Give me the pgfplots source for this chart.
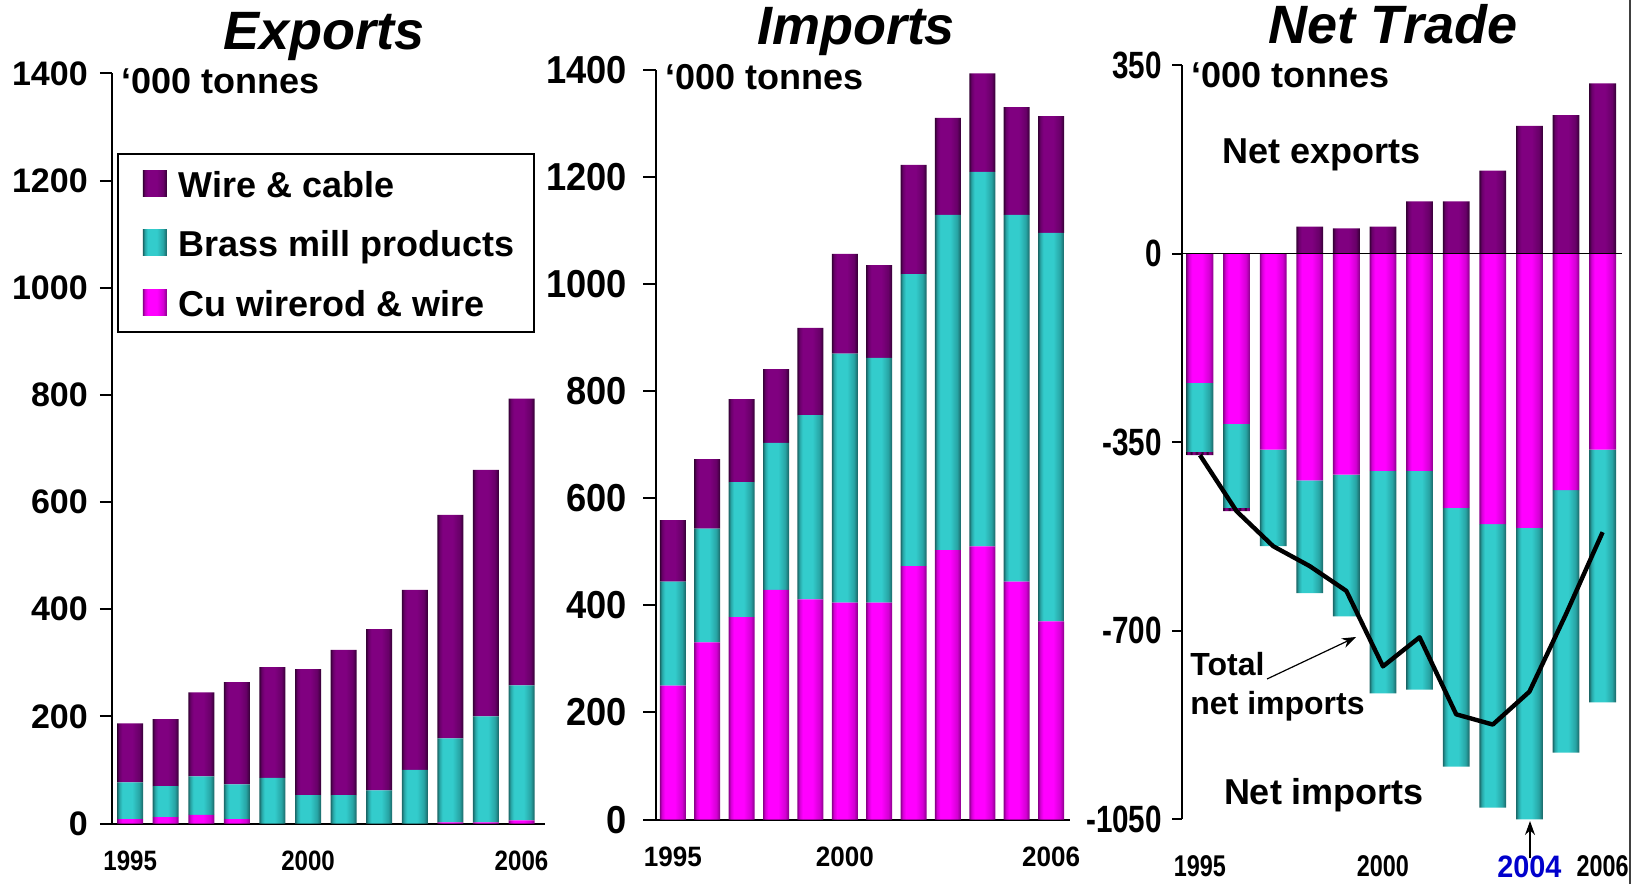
\documentclass[border=0pt]{standalone}
\usepackage{pgfplots}
\pgfplotsset{compat=1.18}
\usepackage{pgfplotstable}
\usepackage{fontspec}
\setmainfont{Liberation Sans}
\newfontfamily\narrowsans[FakeStretch=0.78]{Liberation Sans}
\newfontfamily\semisans[FakeStretch=0.86]{Liberation Sans}
\newfontfamily\slightsans[FakeStretch=0.93]{Liberation Sans}
\usetikzlibrary{arrows.meta}

\newcommand\fs[1]{\fontsize{#1}{#1}\selectfont}

% bar colours: dark edge, mid tone, bright centre
\definecolor{wdk}{HTML}{330033}
\definecolor{wmd}{HTML}{680068}
\definecolor{wlt}{HTML}{800080}
\definecolor{bdk}{HTML}{1A6464}
\definecolor{bmd}{HTML}{27A4A4}
\definecolor{blt}{HTML}{33CCCC}
\definecolor{cdk}{HTML}{880088}
\definecolor{cmd}{HTML}{D400D4}
\definecolor{clt}{HTML}{FF00FF}
\definecolor{yrblue}{HTML}{0000CC}

% A series of bars is filled as one path, so its shading repeats once per
% bar: #1 name, #2 bar spacing (pt), #3 bar width (pt), #4-#6 dark/mid/light.
\newcommand\declarebarshading[6]{%
  \pgfmathsetmacro\barW{11*(#2)+(#3)}%
  \gdef\barspec{color(0bp)=(#4)}%
  \foreach \i in {0,...,11}{%
    \foreach \f/\c in {0/#4,0.08/#5,0.2/#6,0.58/#6,0.85/#5,1/#4}{%
      \pgfmathsetmacro\p{25+50*(\i*(#2)+\f*(#3))/\barW}%
      \xdef\barspec{\barspec; color(\p bp)=(\c)}%
    }%
  }%
  \xdef\barspec{\barspec; color(100bp)=(#4)}%
  \edef\next{\noexpand\pgfdeclarehorizontalshading{#1}{100bp}{\barspec}}\next
}
% exports: 216.5pt / 12.17 units, imports: 207pt / 12.04, net: 220pt / 12.02
\declarebarshading{expwire}{216.5/12.17}{13}{wdk}{wmd}{wlt}
\declarebarshading{expbrass}{216.5/12.17}{13}{bdk}{bmd}{blt}
\declarebarshading{expcu}{216.5/12.17}{13}{cdk}{cmd}{clt}
\declarebarshading{impwire}{207/12.04}{13}{wdk}{wmd}{wlt}
\declarebarshading{impbrass}{207/12.04}{13}{bdk}{bmd}{blt}
\declarebarshading{impcu}{207/12.04}{13}{cdk}{cmd}{clt}
\declarebarshading{netwire}{220/12.02}{13.4}{wdk}{wmd}{wlt}
\declarebarshading{netbrass}{220/12.02}{13.4}{bdk}{bmd}{blt}
\declarebarshading{netcu}{220/12.02}{13.4}{cdk}{cmd}{clt}

% single swatch shadings for the legend
\pgfdeclarehorizontalshading{wireone}{100bp}{color(0bp)=(wdk); color(25bp)=(wdk); color(29bp)=(wmd); color(35bp)=(wlt); color(54bp)=(wlt); color(67bp)=(wmd); color(75bp)=(wdk); color(100bp)=(wdk)}
\pgfdeclarehorizontalshading{brassone}{100bp}{color(0bp)=(bdk); color(25bp)=(bdk); color(29bp)=(bmd); color(35bp)=(blt); color(54bp)=(blt); color(67bp)=(bmd); color(75bp)=(bdk); color(100bp)=(bdk)}
\pgfdeclarehorizontalshading{cuone}{100bp}{color(0bp)=(cdk); color(25bp)=(cdk); color(29bp)=(cmd); color(35bp)=(clt); color(54bp)=(clt); color(67bp)=(cmd); color(75bp)=(cdk); color(100bp)=(cdk)}

\pgfplotsset{
  shadedbar/.style={draw=none, shade, shading=#1},
}

% '000 tonnes, years 1995 ... 2006 at x = 0 ... 11
\pgfplotstableread{
idx cu brass wire
0   8  69 110
1  12  58 125
2  16  72 157
3   8  65 191
4   0  85 207
5   0  53 235
6   0  53 271
7   0  62 301
8   0 100 336
9   2 157 417
10  2 198 460
11  6 252 535
}\exportsdata

\pgfplotstableread{
idx  cu brass wire
0   250 194 115
1   331 212 130
2   378 252 155
3   429 274 138
4   411 344 163
5   405 465 186
6   405 457 173
7   473 545 204
8   503 626 181
9   510 699 184
10  444 685 201
11  370 725 218
}\importsdata

\pgfplotstableread{
idx   cu brass wireneg wirepos total
0   -240 -128 -6   0 -374
1   -316 -156 -6   0 -478
2   -364 -179  0   0 -543
3   -421 -209  0  50 -580
4   -410 -263  0  47 -626
5   -403 -413  0  50 -766
6   -403 -406  0  97 -712
7   -472 -480  0  97 -855
8   -502 -526  0 154 -874
9   -509 -541  0 237 -813
10  -439 -487  0 257 -669
11  -364 -469  0 316 -517
}\netdata

\begin{document}
\begin{tikzpicture}
\useasboundingbox (0,0) rectangle (821.5pt,442pt);

% ---------------- Exports ----------------
\begin{axis}[
  at={(56pt,30.25pt)}, anchor=south west,
  scale only axis, width=216.5pt, height=375pt,
  xmin=-0.51, xmax=11.66, ymin=0, ymax=1400,
  ybar stacked, bar width=13pt,
  axis y line*=left, axis x line*=bottom,
  axis line style={line width=1pt, black},
  tick align=outside, major tick length=6pt,
  ytick={0,200,...,1400},
  yticklabels={0,200,400,600,800,1000,1200,1400},
  ytick style={line width=1pt, black},
  yticklabel style={font=\fs{17pt}\bfseries, xshift=-2.6pt},
  xtick={0,5,11}, xticklabels={1995,2000,2006},
  xtick style={draw=none},
  xticklabel style={font=\semisans\fs{14pt}\bfseries, yshift=-4.2pt},
  legend cell align=left,
  legend image code/.code={%
    \pgfpathrectanglecorners{\pgfpoint{0pt}{-6.5pt}}{\pgfpoint{21pt}{6.5pt}}%
    \pgfusepath{}%
    \path[#1] (4.5pt,-6.5pt) rectangle (16.5pt,6.5pt);},
  legend style={at={(0.0115,0.894)}, anchor=north west,
    draw=black, line width=0.9pt, fill=white,
    inner xsep=8pt, inner ysep=4.9pt, row sep=9.6pt,
    font=\fs{18pt}\bfseries,
    nodes={inner sep=1.5pt, text height=15.5pt, text depth=1.5pt}},
]
\addlegendimage{shadedbar=wireone}
\addlegendimage{shadedbar=brassone}
\addlegendimage{shadedbar=cuone}
\legend{Wire \& cable, Brass mill products, Cu wirerod \& wire}
\addplot[shadedbar=expcu]    table[x=idx,y=cu]    {\exportsdata};
\addplot[shadedbar=expbrass] table[x=idx,y=brass] {\exportsdata};
\addplot[shadedbar=expwire]  table[x=idx,y=wire]  {\exportsdata};
\end{axis}

% ---------------- Imports ----------------
\begin{axis}[
  at={(328pt,32.2pt)}, anchor=south west,
  scale only axis, width=207pt, height=375pt,
  xmin=-0.49, xmax=11.55, ymin=0, ymax=1400,
  ybar stacked, bar width=13pt,
  axis y line*=left, axis x line*=bottom,
  axis line style={line width=1pt, black},
  tick align=outside, major tick length=6.5pt,
  ytick={0,200,...,1400},
  yticklabels={0,200,400,600,800,1000,1200,1400},
  ytick style={line width=1pt, black},
  yticklabel style={font=\slightsans\fs{19.5pt}\bfseries, xshift=-4.5pt},
  xtick={0,5,11}, xticklabels={1995,2000,2006},
  xtick style={draw=none},
  xticklabel style={font=\slightsans\fs{14pt}\bfseries, yshift=-3.5pt},
]
\addplot[shadedbar=impcu]    table[x=idx,y=cu]    {\importsdata};
\addplot[shadedbar=impbrass] table[x=idx,y=brass] {\importsdata};
\addplot[shadedbar=impwire]  table[x=idx,y=wire]  {\importsdata};
\end{axis}

% ---------------- Net trade: net imports stacked below zero ----------------
\begin{axis}[
  at={(591pt,32.3pt)}, anchor=south west,
  scale only axis, width=220pt, height=377.2pt,
  xmin=-0.49, xmax=11.53, ymin=-1050, ymax=350,
  ybar stacked, bar width=13.4pt,
  axis y line*=left, axis x line*=bottom,
  x axis line style={draw=none},
  y axis line style={line width=1pt, black},
  tick align=outside, major tick length=5pt,
  ytick={-1050,-700,-350,0,350},
  yticklabels={-1050,-700,-350,0,350},
  ytick style={line width=1pt, black},
  yticklabel style={font=\narrowsans\fs{19pt}\bfseries, xshift=-1.5pt},
  xtick={0,5,9,11},
  xticklabels={1995,2000,{\slightsans\fs{15.5pt}\textcolor{yrblue}{2004}},2006},
  xtick style={draw=none},
  xticklabel style={font=\narrowsans\fs{15pt}\bfseries, yshift=-9.5pt},
]
\addplot[shadedbar=netcu]    table[x=idx,y=cu]      {\netdata};
\addplot[shadedbar=netbrass] table[x=idx,y=brass]   {\netdata};
\addplot[shadedbar=netwire]  table[x=idx,y=wireneg] {\netdata};
\end{axis}

% ---------------- Net trade: net exports and total line ----------------
\begin{axis}[
  at={(591pt,32.3pt)}, anchor=south west,
  scale only axis, width=220pt, height=377.2pt,
  xmin=-0.49, xmax=11.53, ymin=-1050, ymax=350,
  hide axis,
]
\addplot[ybar, bar width=13.4pt, shadedbar=netwire] table[x=idx,y=wirepos] {\netdata};
\draw[line width=0.7pt, black] (axis cs:-0.49,0) -- (axis cs:11.53,0);
\addplot[black, line width=2.2pt, line join=round, mark=none]
  table[x=idx,y=total] {\netdata};
\end{axis}

% titles
\node[anchor=base, font=\fs{27pt}\bfseries\itshape] at (162pt,417pt) {Exports};
\node[anchor=base, font=\fs{27pt}\bfseries\itshape] at (428pt,419.5pt) {Imports};
\node[anchor=base, font=\fs{27pt}\bfseries\itshape] at (696.5pt,420pt) {Net Trade};

% units
\node[anchor=base west, inner sep=0pt, font=\fs{18pt}\bfseries] at (60.5pt,395pt) {‘000 tonnes};
\node[anchor=base west, inner sep=0pt, font=\fs{18pt}\bfseries] at (332.5pt,397pt) {‘000 tonnes};
\node[anchor=base west, inner sep=0pt, font=\fs{18pt}\bfseries] at (595.5pt,398pt) {‘000 tonnes};

% net trade annotations
\node[anchor=base, font=\fs{18pt}\bfseries] at (661pt,360pt) {Net exports};
\node[anchor=base, font=\fs{18pt}\bfseries] at (662pt,40pt) {Net imports};
\node[anchor=base west, inner sep=0pt, font=\fs{16pt}\bfseries] at (595pt,104.5pt) {Total};
\node[anchor=base west, inner sep=0pt, font=\fs{16pt}\bfseries] at (595pt,85pt) {net imports};
\draw[line width=0.6pt, -{Stealth[length=7pt,width=5pt]}] (633.5pt,102.5pt) -- (678pt,123.5pt);
\draw[line width=0.6pt, -{Stealth[length=7pt,width=5pt]}] (765pt,13pt) -- (765pt,31.5pt);

% frame edge on the right
\draw[line width=0.8pt, black!75] (815pt,0pt) -- (815pt,442pt);
\end{tikzpicture}
\end{document}
